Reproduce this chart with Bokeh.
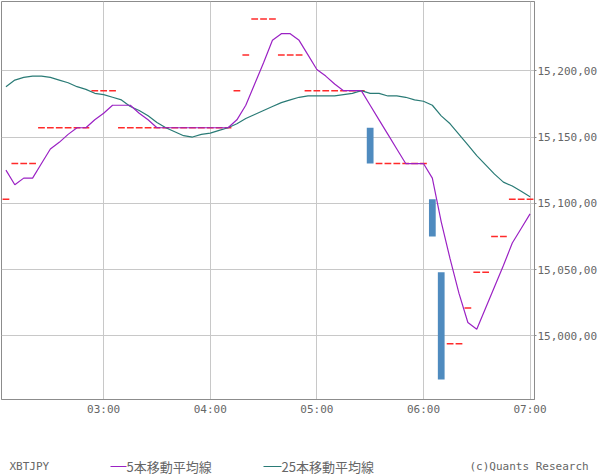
from bokeh.plotting import figure
from bokeh.layouts import column
from bokeh.models import FixedTicker, Range1d, ColumnDataSource
from bokeh.embed import file_html
from bokeh.resources import INLINE
from bokeh.core.properties import value

# ---------------- data ----------------
times = [
    "02:05", "02:10", "02:15", "02:20", "02:25", "02:30", "02:35", "02:40", "02:45", "02:50", "02:55", "03:00",
    "03:05", "03:10", "03:15", "03:20", "03:25", "03:30", "03:35", "03:40", "03:45", "03:50", "03:55", "04:00",
    "04:05", "04:10", "04:15", "04:20", "04:25", "04:30", "04:35", "04:40", "04:45", "04:50", "04:55", "05:00",
    "05:05", "05:10", "05:15", "05:20", "05:25", "05:30", "05:35", "05:40", "05:45", "05:50", "05:55", "06:00",
    "06:05", "06:10", "06:15", "06:20", "06:25", "06:30", "06:35", "06:40", "06:45", "06:50", "06:55", "07:00",
]
opens = [
    15103, 15130, 15130, 15130, 15157, 15157, 15157, 15157, 15157, 15157, 15185, 15185,
    15185, 15157, 15157, 15157, 15157, 15157, 15157, 15157, 15157, 15157, 15157, 15157,
    15157, 15157, 15185, 15212, 15239, 15239, 15239, 15212, 15212, 15212, 15185, 15185,
    15185, 15185, 15185, 15185, 15185, 15157, 15130, 15130, 15130, 15130, 15130, 15130,
    15103, 15048, 14994, 14994, 15021, 15048, 15048, 15075, 15075, 15103, 15103, 15103,
]
closes = [
    15103, 15130, 15130, 15130, 15157, 15157, 15157, 15157, 15157, 15157, 15185, 15185,
    15185, 15157, 15157, 15157, 15157, 15157, 15157, 15157, 15157, 15157, 15157, 15157,
    15157, 15157, 15185, 15212, 15239, 15239, 15239, 15212, 15212, 15212, 15185, 15185,
    15185, 15185, 15185, 15185, 15185, 15130, 15130, 15130, 15130, 15130, 15130, 15130,
    15075, 14967, 14994, 14994, 15021, 15048, 15048, 15075, 15075, 15103, 15103, 15103,
]
ma5 = [
    15125, 15114, 15119, 15119, 15130, 15141, 15146, 15152, 15157, 15157, 15163, 15168,
    15174, 15174, 15174, 15168, 15163, 15157, 15157, 15157, 15157, 15157, 15157, 15157,
    15157, 15157, 15163, 15174, 15190, 15206, 15223, 15228, 15228, 15223, 15212, 15201,
    15196, 15190, 15185, 15185, 15185, 15174, 15163, 15152, 15141, 15130, 15130, 15130,
    15119, 15086, 15058, 15032, 15010, 15005, 15021, 15037, 15053, 15070, 15081, 15092,
]
ma25 = [
    15188, 15193, 15195, 15196, 15196, 15195, 15193, 15191, 15188, 15186, 15183, 15182,
    15180, 15178, 15173, 15170, 15166, 15161, 15157, 15154, 15151, 15150, 15152, 15153,
    15155, 15157, 15160, 15164, 15167, 15170, 15173, 15176, 15178, 15180, 15181, 15181,
    15181, 15181, 15182, 15183, 15185, 15183, 15183, 15181, 15181, 15180, 15178, 15177,
    15174, 15166, 15160, 15152, 15144, 15136, 15129, 15122, 15116, 15113, 15109, 15105,
]
x_tick_labels = ["03:00", "04:00", "05:00", "06:00", "07:00"]
y_tick_values = [15000, 15050, 15100, 15150, 15200]
y_tick_labels = ["15,000,00", "15,050,00", "15,100,00", "15,150,00", "15,200,00"]
symbol = "XBTJPY"
legend_ma5 = "5本移動平均線"
legend_ma25 = "25本移動平均線"
credit = "(c)Quants Research"

# ---------------- helpers ----------------
def to_min(s):
    h, m = s.split(":")
    return int(h) * 60 + int(m)

t = [to_min(s) for s in times]
x_ticks = [to_min(s) for s in x_tick_labels]
HALF = 1.9  # half width of a candle, minutes

doji = [(ti, c) for ti, o, c in zip(t, opens, closes) if o == c]
body = [(ti, o, c) for ti, o, c in zip(t, opens, closes) if o != c]

GRID = "#c8c8c8"
FRAME = "#8c8c8c"
TXT = "#666666"
MONO = "DejaVu Sans Mono"
PURPLE = "#9b22c4"
TEAL = "#2a7b76"

p = figure(width=600, height=420,
           x_range=Range1d(122.5, 422.5), y_range=Range1d(14951.9, 15252.3),
           output_backend="svg", toolbar_location=None,
           y_axis_location="right",
           min_border_left=1, min_border_top=1, min_border_right=63, min_border_bottom=21)
p.background_fill_color = "white"
p.border_fill_color = "white"
p.outline_line_color = FRAME
p.outline_line_width = 1

p.xaxis.ticker = FixedTicker(ticks=x_ticks)
p.xaxis.major_label_overrides = {k: v for k, v in zip(x_ticks, x_tick_labels)}
p.yaxis.ticker = FixedTicker(ticks=y_tick_values)
p.yaxis.major_label_overrides = {k: v for k, v in zip(y_tick_values, y_tick_labels)}
for ax in (p.xaxis, p.yaxis):
    ax.axis_line_color = FRAME
    ax.major_tick_line_color = FRAME
    ax.minor_tick_line_color = None
    ax.major_tick_in = 0
    ax.major_label_text_font = MONO
    ax.major_label_text_font_size = "11px"
    ax.major_label_text_color = TXT
p.xaxis.major_tick_out = 0
p.xaxis.major_label_standoff = 3
p.yaxis.major_tick_out = 2
p.yaxis.major_label_standoff = 1

p.xgrid.ticker = FixedTicker(ticks=x_ticks)
p.ygrid.ticker = FixedTicker(ticks=y_tick_values)
p.xgrid.grid_line_color = GRID
p.ygrid.grid_line_color = GRID

# candles
dsrc = ColumnDataSource(dict(x0=[d[0] - HALF for d in doji], x1=[d[0] + HALF for d in doji],
                             y=[d[1] for d in doji]))
p.segment(x0="x0", y0="y", x1="x1", y1="y", source=dsrc, line_color="#ff2a2a", line_width=1.5)
bsrc = ColumnDataSource(dict(x=[b[0] for b in body], top=[max(b[1], b[2]) for b in body],
                             bottom=[min(b[1], b[2]) for b in body]))
p.vbar(x="x", top="top", bottom="bottom", width=2 * HALF, source=bsrc,
       fill_color="#4f8bbf", line_color=None)

# moving averages
p.line(t, ma25, line_color=TEAL, line_width=1.2)
p.line(t, ma5, line_color=PURPLE, line_width=1.2)

# ---------------- legend strip ----------------
q = figure(width=600, height=55, x_range=Range1d(0, 600), y_range=Range1d(475, 420),
           output_backend="svg", toolbar_location=None,
           min_border_left=0, min_border_right=0, min_border_top=0, min_border_bottom=0)
q.frame_align = False
q.axis.visible = False
q.grid.visible = False
q.outline_line_color = None
q.background_fill_color = "white"
q.border_fill_color = "white"

ly = 466
q.text(x=[9], y=[ly], text=[symbol], text_baseline="middle", text_font=value(MONO),
       text_font_size="11px", text_color=TXT)
q.segment(x0=[110], y0=[ly], x1=[126], y1=[ly], line_color=PURPLE, line_width=1.2)
q.text(x=[126], y=[ly], text=[legend_ma5], text_baseline="middle", text_font=value("Noto Sans CJK JP"),
       text_font_size="13px", text_color=TXT)
q.segment(x0=[263], y0=[ly], x1=[281], y1=[ly], line_color=TEAL, line_width=1.2)
q.text(x=[281], y=[ly], text=[legend_ma25], text_baseline="middle", text_font=value("Noto Sans CJK JP"),
       text_font_size="13px", text_color=TXT)
q.text(x=[469], y=[ly], text=[credit], text_baseline="middle", text_font=value(MONO),
       text_font_size="11px", text_color=TXT)

layout = column(p, q, spacing=0)
open("out.html", "w").write(file_html(layout, INLINE))
